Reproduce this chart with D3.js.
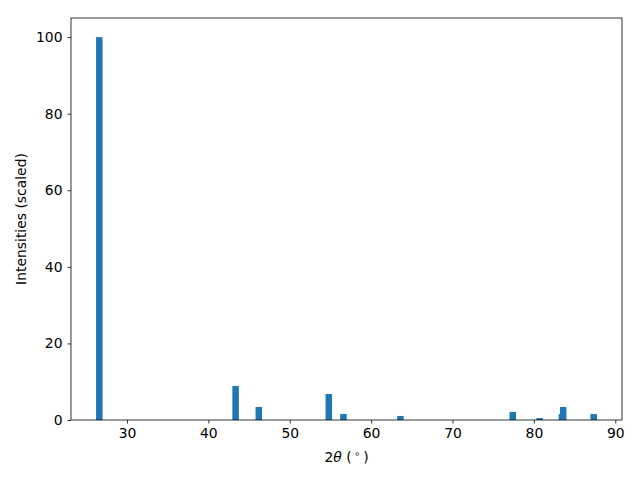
<!DOCTYPE html>
<html>
<head>
<meta charset="utf-8">
<script src="https://cdn.jsdelivr.net/npm/d3@7"></script>
<style>
  body { margin: 0; background: #fff; }
  svg { font-family: "DejaVu Sans", sans-serif; }
</style>
</head>
<body>
<div id="chart"></div>
<script>
// peak positions (2theta, degrees) and scaled intensities
const angles = [26.6, 43.35, 46.2, 54.8, 56.6, 63.6, 77.4, 80.7, 83.45, 83.6, 87.35];
const intensities = [100, 8.9, 3.4, 6.8, 1.6, 1.05, 2.1, 0.5, 1.55, 3.4, 1.55];
const xTicks = [30, 40, 50, 60, 70, 80, 90];
const yTicks = [0, 20, 40, 60, 80, 100];
const barWidth = 0.8;

const width = 640, height = 480;
const margin = {top: 18, right: 18, bottom: 60, left: 71};

const data = angles.map((a, i) => ({x: a, y: intensities[i]}));

const svg = d3.select("#chart").append("svg")
  .attr("width", width).attr("height", height);

// matplotlib style 5% margins on x
let lo = d3.min(angles) - barWidth / 2, hi = d3.max(angles) + barWidth / 2;
let pad = (hi - lo) * 0.05;
const x = d3.scaleLinear()
  .domain([lo - pad, hi + pad])
  .range([margin.left, width - margin.right]);

const y = d3.scaleLinear()
  .domain([0, d3.max(intensities) * 1.05])
  .range([height - margin.bottom, margin.top]);

svg.append("g")
  .selectAll("rect")
  .data(data)
  .enter().append("rect")
    .attr("x", d => x(d.x - barWidth / 2))
    .attr("width", d => x(d.x + barWidth / 2) - x(d.x - barWidth / 2))
    .attr("y", d => y(d.y))
    .attr("height", d => y(0) - y(d.y))
    .attr("fill", "#1f77b4");

const xAxis = g => g
  .attr("transform", `translate(0,${height - margin.bottom})`)
  .call(d3.axisBottom(x).tickValues(xTicks).tickSize(3.5).tickPadding(5))
  .call(g => g.select(".domain").remove());

const yAxis = g => g
  .attr("transform", `translate(${margin.left},0)`)
  .call(d3.axisLeft(y).tickValues(yTicks).tickSize(3.5).tickPadding(5))
  .call(g => g.select(".domain").remove());

svg.append("g").call(xAxis);
svg.append("g").call(yAxis);

svg.selectAll(".tick text").attr("font-size", 13.9).attr("font-family", "DejaVu Sans").attr("fill", "#000");
svg.selectAll(".tick line").attr("stroke", "#000").attr("stroke-width", 0.8);

// frame
svg.append("rect")
  .attr("x", margin.left).attr("y", margin.top)
  .attr("width", width - margin.left - margin.right)
  .attr("height", height - margin.top - margin.bottom)
  .attr("fill", "none").attr("stroke", "#000").attr("stroke-width", 0.8);

// axis labels
const xl = svg.append("text")
  .attr("x", (margin.left + width - margin.right) / 2)
  .attr("y", 462)
  .attr("text-anchor", "middle")
  .attr("font-size", 13.9);
xl.append("tspan").text("2");
xl.append("tspan").attr("font-style", "italic").text("θ");
xl.append("tspan").text(" (\u2009");
xl.append("tspan").attr("font-size", 9.7).attr("dy", -5).text("∘");
xl.append("tspan").attr("dy", 5).text("\u2009)");

svg.append("text")
  .attr("transform", `translate(26,${(margin.top + height - margin.bottom) / 2}) rotate(-90)`)
  .attr("text-anchor", "middle")
  .attr("font-size", 13.9)
  .text("Intensities (scaled)");
</script>
</body>
</html>
